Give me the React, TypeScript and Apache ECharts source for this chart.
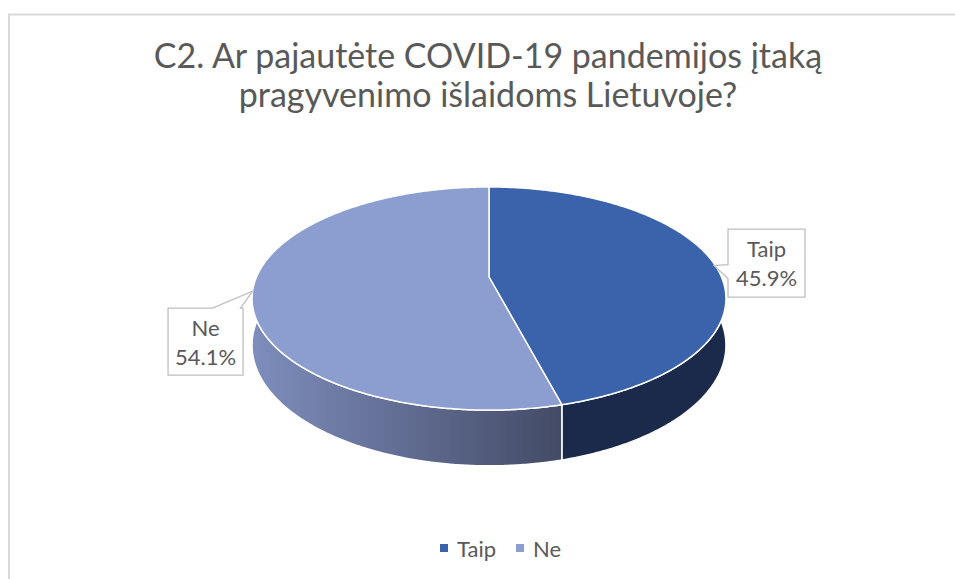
import React, { useEffect, useRef } from 'react';
import * as echarts from 'echarts';

// ---- data ----
const categories: string[] = ['Taip', 'Ne'];
const values: number[] = [45.9, 54.1];
const titleText = 'C2. Ar pajautėte COVID-19 pandemijos įtaką\npragyvenimo išlaidoms Lietuvoje?';

// ---- style ----
const topColors = ['#3A63AB', '#8B9ECF'];
const sideFills: any[] = [
  '#1B2A4A',
  {
    type: 'linear', x: 0, y: 0, x2: 1, y2: 0,
    colorStops: [
      { offset: 0, color: '#7E8DBC' },
      { offset: 1, color: '#434B66' },
    ],
  },
];
const TEXT = '#595959';
const FONT = 'Lato, "Open Sans", sans-serif';

// 3D projection parameters (perspective tilted disc)
const CX = 489;
const CY = 277;
const R = 232.5;
const RS = 107.4;
const K = 0.193;
const H = 45;

function project(deg: number): [number, number, number] {
  const t = (deg * Math.PI) / 180;
  const s = Math.sin(t);
  const c = Math.cos(t);
  const f = 1 / (1 + K * c);
  return [CX + R * s * f, CY - RS * c * f, f];
}

function arc(a: number, b: number): number[][] {
  const n = Math.max(2, Math.ceil(Math.abs(b - a) / 0.5));
  const pts: number[][] = [];
  for (let j = 0; j <= n; j++) {
    const d = a + ((b - a) * j) / n;
    const p = project(d);
    pts.push([p[0], p[1], p[2]]);
  }
  return pts;
}

function buildSlice(i: number) {
  const total = values.reduce((s, v) => s + v, 0);
  let before = 0;
  for (let j = 0; j < i; j++) before += values[j];
  const start = (before / total) * 360;
  const end = ((before + values[i]) / total) * 360;
  const children: any[] = [];

  // side wall (front visible part)
  const a = Math.max(start, 90);
  const b = Math.min(end, 270);
  if (a < b) {
    const topArc = arc(a, b);
    const pts: number[][] = topArc.map((p) => [p[0], p[1]]);
    for (let j = topArc.length - 1; j >= 0; j--) {
      const p = topArc[j];
      pts.push([p[0], p[1] + H * p[2]]);
    }
    children.push({
      type: 'polygon',
      z2: 1,
      shape: { points: pts },
      style: { fill: sideFills[i], stroke: '#FFFFFF', lineWidth: 1.5 },
    });
  }

  // top face
  const topPts: number[][] = [[CX, CY]];
  arc(start, end).forEach((p) => topPts.push([p[0], p[1]]));
  children.push({
    type: 'polygon',
    z2: 2,
    shape: { points: topPts },
    style: { fill: topColors[i], stroke: '#FFFFFF', lineWidth: 1.5 },
  });

  // callout label
  const mid = (start + end) / 2;
  const tip = project(mid);
  const tx = tip[0];
  const ty = tip[1];
  let box: number[][];
  let cx: number;
  let cy: number;
  if (tx >= CX) {
    const L = tx + 14;
    const Rr = L + 77;
    const T = ty - 34.5;
    const B = T + 68;
    box = [[L, T], [Rr, T], [Rr, B], [L, B], [L, ty + 15], [tx, ty + 2], [L, ty + 1]];
    cx = (L + Rr) / 2;
    cy = (T + B) / 2;
  } else {
    const Rr = tx - 9.5;
    const L = Rr - 75;
    const T = ty + 17;
    const B = T + 67;
    box = [[L, T], [tx - 40, T], [tx, ty], [tx - 12, T], [Rr, T], [Rr, B], [L, B]];
    cx = (L + Rr) / 2;
    cy = (T + B) / 2;
  }
  children.push({
    type: 'polygon',
    z2: 10,
    shape: { points: box },
    style: { fill: '#FFFFFF', stroke: '#BFBFBF', lineWidth: 1.3 },
  });
  children.push({
    type: 'text',
    z2: 11,
    x: cx,
    y: cy,
    style: {
      text: categories[i] + '\n' + values[i].toFixed(1) + '%',
      align: 'center',
      verticalAlign: 'middle',
      fontFamily: FONT,
      fontSize: 22,
      lineHeight: 29,
      fill: TEXT,
    },
  });

  return { type: 'group', children };
}

export default function App() {
  const ref = useRef<HTMLDivElement>(null);
  useEffect(() => {
    document.body.style.margin = '0';
    if (!ref.current) return;
    const chart = echarts.init(ref.current, null, { renderer: 'svg' });
    chart.setOption({
      animation: false,
      backgroundColor: '#FFFFFF',
      graphic: [
        {
          type: 'rect',
          silent: true,
          shape: { x: 9, y: 14.5, width: 1200, height: 800 },
          style: { fill: 'none', stroke: '#D9D9D9', lineWidth: 2 },
        },
        {
          type: 'text',
          x: 488,
          y: 35,
          style: {
            text: titleText,
            align: 'center',
            verticalAlign: 'top',
            fontFamily: FONT,
            fontSize: 34,
            lineHeight: 39,
            fill: TEXT,
          },
        },
      ],
      legend: {
        data: categories,
        left: 435,
        top: 532,
        icon: 'rect',
        itemWidth: 8,
        itemHeight: 8,
        itemGap: 20,
        selectedMode: false,
        textStyle: { fontFamily: FONT, fontSize: 22, color: TEXT, padding: [0, 0, 0, 4] },
      },
      series: categories.map((name, i) => ({
        type: 'custom',
        name,
        coordinateSystem: 'none',
        silent: true,
        itemStyle: { color: topColors[i] },
        data: [{ value: values[i], name }],
        renderItem: () => buildSlice(i),
      })),
    });
    return () => chart.dispose();
  }, []);
  return <div ref={ref} style={{ width: 955, height: 579 }} />;
}
